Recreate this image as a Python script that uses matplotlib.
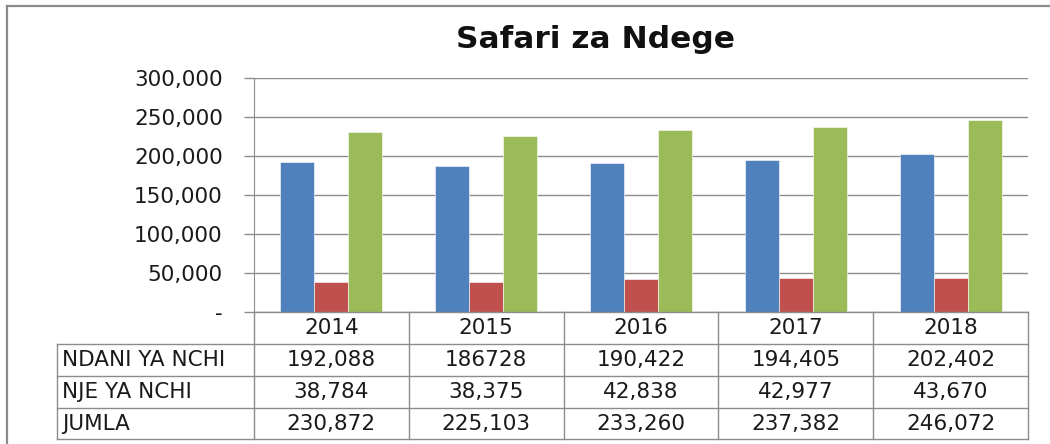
import matplotlib
matplotlib.use("Agg")
import matplotlib.pyplot as plt
from matplotlib.lines import Line2D

years = ["2014", "2015", "2016", "2017", "2018"]
series_names = ["NDANI YA NCHI", "NJE YA NCHI", "JUMLA"]
ndani = [192088, 186728, 190422, 194405, 202402]
nje = [38784, 38375, 42838, 42977, 43670]
jumla = [230872, 225103, 233260, 237382, 246072]
table_text = [
    ["192,088", "186728", "190,422", "194,405", "202,402"],
    ["38,784", "38,375", "42,838", "42,977", "43,670"],
    ["230,872", "225,103", "233,260", "237,382", "246,072"],
]
yticks = [0, 50000, 100000, 150000, 200000, 250000, 300000]
ytick_labels = ["-", "50,000", "100,000", "150,000", "200,000", "250,000", "300,000"]
colors = ["#4F81BD", "#C0504D", "#9BBB59"]

W, H = 1050, 444
fig = plt.figure(figsize=(W / 100, H / 100), dpi=100)
FONT = "DejaVu Sans"
TXT = "#1a1a1a"

def fx(px):
    return px / W

def fy(py):
    return 1 - py / H

left, right, top, bottom = 254, 1028, 78, 312
ax = fig.add_axes([fx(left), fy(bottom), fx(right - left), (bottom - top) / H])

n = len(years)
bw = 0.22
xs = list(range(n))
for i, (vals, c) in enumerate(zip([ndani, nje, jumla], colors)):
    ax.bar([x + (i - 1) * bw for x in xs], vals, width=bw, color=c,
           edgecolor="white", linewidth=0.4, zorder=3)

ax.set_xlim(-0.5, n - 0.5)
ax.set_ylim(0, 300000)
ax.set_yticks(yticks)
ax.set_yticklabels(ytick_labels, fontsize=15.5, family=FONT, color=TXT)
ax.set_xticks([])
ax.grid(axis="y", color="#8c8c8c", linewidth=1.0, zorder=0)
for s in ["top", "right", "bottom"]:
    ax.spines[s].set_visible(False)
ax.spines["left"].set_color("#8c8c8c")
ax.tick_params(axis="y", length=7.5, color="#8c8c8c", pad=15, width=1.0)

# title
fig.text(fx(596), fy(40), "Safari za Ndege", ha="center", va="center",
         fontsize=22.5, fontweight="bold", family=FONT, color="#111111")

# outer border (top and left)
lc = "#8c8c8c"
fig.add_artist(Line2D([fx(7), fx(1050)], [fy(6), fy(6)], color=lc, lw=1.6))
fig.add_artist(Line2D([fx(7), fx(7)], [fy(6), fy(444)], color=lc, lw=1.6))

# data table
row_y = [312, 344, 376, 408, 439]
tleft = 57
colw = (right - left) / n
col_x = [left + i * colw for i in range(n + 1)]
tlc = "#8c8c8c"
fig.add_artist(Line2D([fx(left), fx(right)], [fy(row_y[0])] * 2, color=tlc, lw=1.0))
for yy in row_y[1:]:
    fig.add_artist(Line2D([fx(tleft), fx(right)], [fy(yy)] * 2, color=tlc, lw=1.0))
fig.add_artist(Line2D([fx(tleft)] * 2, [fy(row_y[1]), fy(row_y[-1])], color=tlc, lw=1.0))
for cx in col_x:
    fig.add_artist(Line2D([fx(cx)] * 2, [fy(row_y[0]), fy(row_y[-1])], color=tlc, lw=1.0))

tfs = 15.5
for j, yr in enumerate(years):
    fig.text(fx(col_x[j] + colw / 2), fy((row_y[0] + row_y[1]) / 2), yr,
             ha="center", va="center", fontsize=tfs, family=FONT, color=TXT)
for r, name in enumerate(series_names):
    yc = (row_y[r + 1] + row_y[r + 2]) / 2
    fig.text(fx(tleft + 5), fy(yc), name, ha="left", va="center",
             fontsize=tfs, family=FONT, color=TXT)
    for j in range(n):
        fig.text(fx(col_x[j] + colw / 2), fy(yc), table_text[r][j],
                 ha="center", va="center", fontsize=tfs, family=FONT, color=TXT)

fig.savefig("out.png", dpi=100)
